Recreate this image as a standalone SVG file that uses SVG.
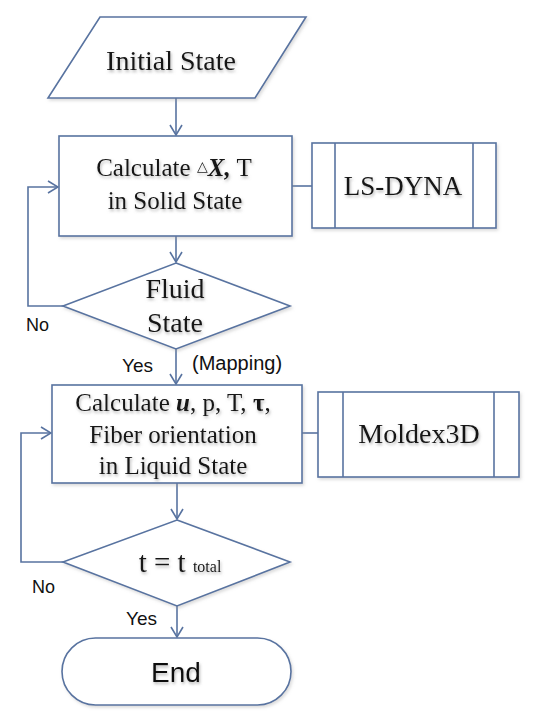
<svg xmlns="http://www.w3.org/2000/svg" width="534" height="719" viewBox="0 0 534 719">
<style>
.shape{fill:#ffffff;stroke:#5873a0;stroke-width:1.6}
.line{fill:none;stroke:#5873a0;stroke-width:1.6}
.serif{font-family:"Liberation Serif","Times New Roman",serif;fill:#141414;text-anchor:middle}
.sans{font-family:"Liberation Sans",Arial,sans-serif;fill:#111111}
.sh{filter:url(#ts)}
</style>
<defs>
<filter id="ts" x="-20%" y="-30%" width="140%" height="170%">
<feDropShadow dx="1" dy="2" stdDeviation="1.4" flood-color="#7a7a7a" flood-opacity="0.55"/>
</filter>
<filter id="bs" x="-5%" y="-5%" width="115%" height="120%">
<feDropShadow dx="1.5" dy="2" stdDeviation="1.5" flood-color="#9a9a9a" flood-opacity="0.35"/>
</filter>
<marker id="arr" viewBox="0 0 12 14" refX="11" refY="7" markerWidth="12" markerHeight="14" markerUnits="userSpaceOnUse" orient="auto">
<path d="M1,1 L11,7 L1,13" fill="none" stroke="#5873a0" stroke-width="1.6"/>
</marker>
</defs>

<g id="connectors">
<line class="line" x1="176" y1="98" x2="176" y2="135" marker-end="url(#arr)"/>
<line class="line" x1="176" y1="236" x2="176" y2="262" marker-end="url(#arr)"/>
<polyline class="line" points="63,306 28,306 28,187 58,187" marker-end="url(#arr)"/>
<line class="line" x1="292" y1="186" x2="312" y2="186"/>
<line class="line" x1="176" y1="349" x2="176" y2="384" marker-end="url(#arr)"/>
<line class="line" x1="302" y1="433" x2="318" y2="433"/>
<line class="line" x1="177" y1="483" x2="177" y2="519" marker-end="url(#arr)"/>
<polyline class="line" points="63,562 21,562 21,433 51,433" marker-end="url(#arr)"/>
<line class="line" x1="177" y1="606" x2="177" y2="637" marker-end="url(#arr)"/>
<text class="sans" x="26" y="331" font-size="18">No</text>
<text class="sans" x="122" y="372" font-size="19">Yes</text>
<text class="sans" x="192" y="370" font-size="20">(Mapping)</text>
<text class="sans" x="32" y="593" font-size="18">No</text>
<text class="sans" x="126" y="625" font-size="19">Yes</text>
</g>

<g id="initial-state">
<polygon class="shape" points="100,17 306,17 255,98 48,98" filter="url(#bs)"/>
<text class="serif sh" x="171" y="70" font-size="28">Initial State</text>
</g>

<g id="calc-solid">
<rect class="shape" x="59" y="136" width="233" height="100" filter="url(#bs)"/>
<text class="serif sh" x="174" y="176" font-size="25">Calculate <tspan font-size="14" dy="-5">△</tspan><tspan dy="5" font-weight="bold" font-style="italic">X,</tspan> T</text>
<text class="serif sh" x="175" y="209" font-size="25">in Solid State</text>
</g>

<g id="ls-dyna">
<rect class="shape" x="312" y="143" width="184" height="85" filter="url(#bs)"/>
<line class="line" x1="335" y1="143" x2="335" y2="228"/>
<line class="line" x1="473" y1="143" x2="473" y2="228"/>
<text class="serif sh" x="403" y="195" font-size="27">LS-DYNA</text>
</g>

<g id="fluid-state">
<polygon class="shape" points="176,263 290,306 176,349 63,306" filter="url(#bs)"/>
<text class="serif sh" x="175" y="298" font-size="28">Fluid</text>
<text class="serif sh" x="175" y="332" font-size="28">State</text>
</g>

<g id="calc-liquid">
<rect class="shape" x="52" y="385" width="250" height="98" filter="url(#bs)"/>
<text class="serif sh" x="173" y="411" font-size="25">Calculate <tspan font-weight="bold" font-style="italic">u</tspan>, p, T, <tspan font-weight="bold">τ</tspan>,</text>
<text class="serif sh" x="173" y="443" font-size="25">Fiber orientation</text>
<text class="serif sh" x="173" y="474" font-size="25">in Liquid State</text>
</g>

<g id="moldex3d">
<rect class="shape" x="318" y="392" width="201" height="85" filter="url(#bs)"/>
<line class="line" x1="343" y1="392" x2="343" y2="477"/>
<line class="line" x1="494" y1="392" x2="494" y2="477"/>
<text class="serif sh" x="419" y="443" font-size="28">Moldex3D</text>
</g>

<g id="time-check">
<polygon class="shape" points="177,520 290,562 177,606 63,562" filter="url(#bs)"/>
<text class="serif sh" x="180" y="572" font-size="29">t = t <tspan font-size="16">total</tspan></text>
</g>

<g id="end">
<rect class="shape" x="62" y="638" width="229" height="67" rx="33.5" ry="33.5" filter="url(#bs)"/>
<text class="sans sh" x="176" y="682" font-size="28" text-anchor="middle">End</text>
</g>
</svg>
